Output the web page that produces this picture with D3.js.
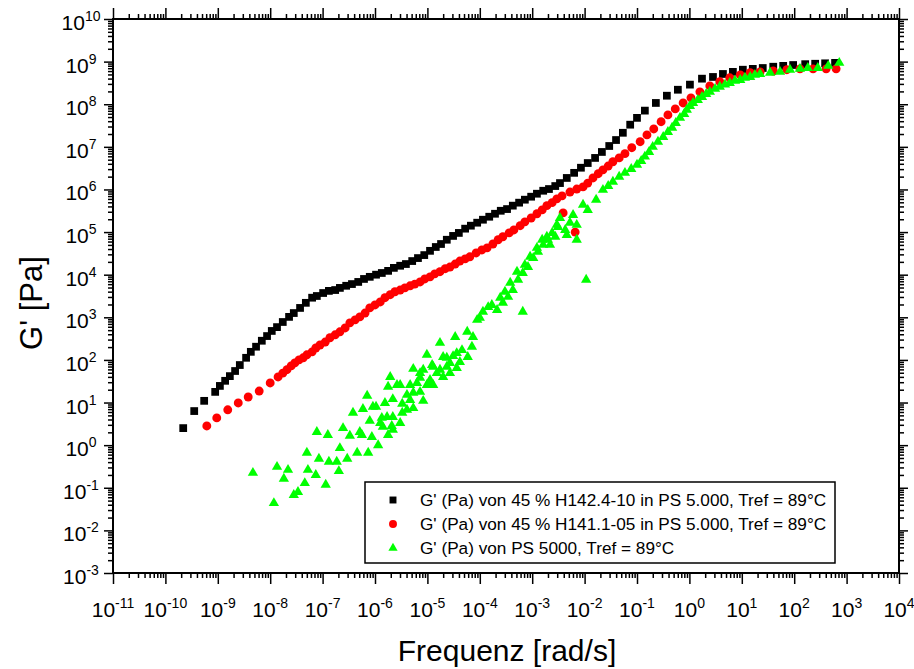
<!DOCTYPE html>
<html>
<head>
<meta charset="utf-8">
<script src="https://cdn.jsdelivr.net/npm/d3@7"></script>
<style>
  body { margin: 0; background: #fff; }
  svg { display: block; }
  text { font-family: Arial, "Liberation Sans", sans-serif; fill: #000; }
</style>
</head>
<body>
<svg id="chart" width="914" height="669"></svg>
<script>
// Storage modulus master curves at Tref = 89 °C.
// Each point is [log10 ω (rad/s), log10 G' (Pa)].
const seriesH1424 = [
  [-9.66,0.40],[-9.45,0.80],[-9.26,1.04],[-9.05,1.25],[-8.96,1.39],[-8.86,1.51],[-8.77,1.62],[-8.67,1.74],
  [-8.58,1.88],[-8.46,2.05],[-8.37,2.19],[-8.27,2.31],[-8.16,2.45],[-8.06,2.56],[-7.97,2.68],[-7.87,2.77],
  [-7.76,2.89],[-7.64,3.01],[-7.55,3.10],[-7.43,3.22],[-7.32,3.34],[-7.20,3.46],[-7.11,3.50],[-6.99,3.57],
  [-6.88,3.62],[-6.76,3.64],[-6.67,3.69],[-6.55,3.74],[-6.44,3.78],[-6.32,3.83],[-6.21,3.90],[-6.10,3.95],
  [-5.98,4.00],[-5.87,4.04],[-5.75,4.09],[-5.64,4.16],[-5.52,4.21],[-5.41,4.25],[-5.29,4.32],[-5.18,4.39],
  [-5.06,4.46],[-4.95,4.56],[-4.84,4.65],[-4.74,4.72],[-4.63,4.82],[-4.51,4.91],[-4.40,4.98],[-4.28,5.08],
  [-4.17,5.15],[-4.05,5.22],[-3.94,5.29],[-3.82,5.36],[-3.71,5.43],[-3.60,5.50],[-3.48,5.54],[-3.37,5.62],
  [-3.25,5.69],[-3.14,5.76],[-3.02,5.83],[-2.91,5.90],[-2.79,5.97],[-2.68,6.01],[-2.56,6.08],[-2.47,6.15],
  [-2.34,6.27],[-2.20,6.39],[-2.07,6.51],[-1.94,6.62],[-1.80,6.74],[-1.67,6.88],[-1.53,7.02],[-1.40,7.16],
  [-1.27,7.33],[-1.13,7.52],[-1.00,7.68],[-0.85,7.85],[-0.64,8.03],[-0.43,8.20],[-0.22,8.34],[0.01,8.46],
  [0.24,8.60],[0.45,8.64],[0.64,8.71],[0.83,8.76],[1.02,8.81],[1.21,8.83],[1.40,8.85],[1.60,8.88],
  [1.79,8.90],[1.98,8.92],[2.21,8.94],[2.40,8.95],[2.59,8.96],[2.78,8.97]
];

const seriesH1411 = [
  [-9.21,0.45],[-9.02,0.64],[-8.81,0.83],[-8.61,0.99],[-8.42,1.13],[-8.21,1.27],[-8.00,1.46],[-7.85,1.60],
  [-7.76,1.69],[-7.68,1.77],[-7.60,1.86],[-7.53,1.93],[-7.45,2.00],[-7.37,2.05],[-7.30,2.12],[-7.20,2.19],
  [-7.13,2.28],[-7.05,2.35],[-6.95,2.42],[-6.86,2.52],[-6.76,2.59],[-6.67,2.66],[-6.57,2.75],[-6.48,2.87],
  [-6.38,2.94],[-6.29,3.01],[-6.19,3.10],[-6.10,3.22],[-6.00,3.29],[-5.90,3.36],[-5.81,3.46],[-5.71,3.53],
  [-5.62,3.60],[-5.52,3.64],[-5.43,3.69],[-5.33,3.74],[-5.24,3.78],[-5.14,3.83],[-5.05,3.90],[-4.95,3.95],
  [-4.86,4.02],[-4.76,4.07],[-4.66,4.14],[-4.57,4.18],[-4.47,4.25],[-4.38,4.32],[-4.28,4.37],[-4.19,4.42],
  [-4.07,4.51],[-3.96,4.58],[-3.86,4.63],[-3.75,4.72],[-3.65,4.82],[-3.56,4.89],[-3.44,4.98],[-3.35,5.05],
  [-3.23,5.15],[-3.14,5.24],[-3.02,5.33],[-2.91,5.43],[-2.81,5.52],[-2.72,5.62],[-2.62,5.69],[-2.53,5.78],
  [-2.43,5.85],[-2.41,5.45],[-2.18,5.00],[-2.28,5.94],[-2.15,6.01],[-2.03,6.06],[-1.94,6.15],[-1.84,6.27],
  [-1.74,6.37],[-1.65,6.46],[-1.55,6.55],[-1.46,6.65],[-1.34,6.74],[-1.23,6.84],[-1.10,6.98],[-0.94,7.12],
  [-0.81,7.28],[-0.68,7.42],[-0.54,7.59],[-0.41,7.75],[-0.27,7.89],[-0.12,8.03],[0.03,8.15],[0.20,8.29],
  [0.39,8.43],[0.58,8.53],[0.77,8.62],[0.97,8.69],[1.16,8.74],[1.35,8.76],[1.60,8.78],[1.86,8.81],
  [2.11,8.83],[2.36,8.83],[2.61,8.83],[2.80,8.83]
];

const seriesPS5000 = [
  [-8.33,-0.65],[-7.87,-0.51],[-7.66,-0.58],[-7.74,-0.79],[-7.93,-1.36],[-7.30,-0.18],[-7.28,-0.58],[-7.13,-0.70],
  [-7.34,-0.89],[-7.47,-1.10],[-7.55,-1.17],[-6.94,-0.93],[-7.11,0.31],[-6.90,0.24],[-7.07,-0.32],[-6.88,-0.39],
  [-6.73,-0.39],[-6.69,-0.61],[-6.67,-0.07],[-6.53,-0.32],[-6.34,-0.18],[-6.13,-0.18],[-6.61,0.40],[-6.48,0.22],
  [-6.29,0.31],[-6.25,0.24],[-6.06,0.19],[-5.94,0.00],[-6.42,0.76],[-6.23,0.85],[-6.15,1.16],[-6.04,0.90],
  [-5.81,0.99],[-6.10,0.57],[-5.87,0.64],[-5.85,0.43],[-5.68,0.45],[-5.52,0.52],[-5.75,0.24],[-5.77,0.66],
  [-5.66,1.08],[-5.48,0.76],[-5.48,0.97],[-5.39,1.18],[-5.33,1.06],[-5.27,0.87],[-5.52,1.41],[-5.75,1.37],
  [-5.33,1.41],[-5.14,1.25],[-5.08,1.04],[-4.95,1.46],[-4.89,1.41],[-5.20,1.46],[-5.98,0.90],[-5.71,1.60],
  [-5.58,1.41],[-5.27,1.79],[-5.08,1.77],[-5.01,2.12],[-5.14,1.58],[-4.76,2.40],[-4.63,2.05],[-4.57,1.93],
  [-4.47,2.54],[-4.44,2.16],[-4.89,1.84],[-4.82,1.69],[-4.70,1.60],[-5.27,1.23],[-5.39,0.83],[-5.66,0.36],
  [-5.90,0.52],[-5.66,0.66],[-4.95,1.53],[-4.91,1.88],[-4.70,2.07],[-4.63,1.84],[-4.51,2.09],[-4.34,2.23],
  [-4.24,2.66],[-4.44,1.81],[-4.38,1.95],[-4.23,2.07],[-4.15,2.31],[-4.05,2.94],[-4.13,2.54],[-4.76,1.77],
  [-4.57,1.69],[-5.14,1.69],[-5.01,1.41],
  [-4.00,2.99],[-3.94,3.13],[-3.84,3.24],[-3.77,3.29],[-3.67,3.17],[-3.61,3.46],[-3.56,3.34],[-3.52,3.60],
  [-3.46,3.48],[-3.37,3.64],[-3.42,3.81],[-3.27,3.88],[-3.29,4.07],[-3.18,4.04],[-3.14,4.23],[-3.08,4.18],
  [-3.04,4.42],[-2.98,4.39],[-2.91,4.63],[-2.89,4.54],[-2.81,4.82],[-2.79,4.70],[-2.72,4.89],[-2.70,4.82],
  [-2.66,4.70],[-2.62,4.98],[-2.56,4.89],[-2.53,5.17],[-2.51,5.12],[-2.47,5.33],[-2.37,5.05],[-2.34,4.93],
  [-2.28,5.22],[-2.22,5.40],[-2.15,5.17],[-2.15,4.82],[-2.03,5.64],[-1.94,5.52],[-1.78,5.76],[-1.97,3.88],
  [-3.18,3.13],
  [-1.65,5.99],[-1.55,6.08],[-1.46,6.18],[-1.34,6.30],[-1.23,6.39],[-1.11,6.48],[-1.00,6.58],[-0.92,6.67],
  [-0.85,6.77],[-0.77,6.88],[-0.70,7.00],[-0.60,7.12],[-0.50,7.23],[-0.41,7.35],[-0.33,7.45],[-0.26,7.56],
  [-0.18,7.68],[-0.10,7.77],[-0.05,7.87],[0.01,7.96],[0.07,8.03],[0.16,8.10],[0.24,8.17],[0.32,8.24],
  [0.39,8.29],[0.49,8.36],[0.58,8.41],[0.68,8.46],[0.77,8.50],[0.87,8.55],[0.97,8.57],[1.06,8.62],
  [1.16,8.64],[1.25,8.69],[1.35,8.71],[1.54,8.74],[1.73,8.76],[1.92,8.81],[2.11,8.83],[2.26,8.85],
  [2.45,8.85],[2.65,8.90],[2.86,8.97]
];

const seriesLabels = [
  "G' (Pa) von 45 % H142.4-10 in PS 5.000, Tref = 89°C",
  "G' (Pa) von 45 % H141.1-05 in PS 5.000, Tref = 89°C",
  "G' (Pa) von PS 5000, Tref = 89°C"
];
const xTickExponents = [-11,-10,-9,-8,-7,-6,-5,-4,-3,-2,-1,0,1,2,3,4];
const yTickExponents = [-3,-2,-1,0,1,2,3,4,5,6,7,8,9,10];
const xTitle = "Frequenz [rad/s]";
const yTitle = "G' [Pa]";

const svg = d3.select("#chart");
svg.append("rect").attr("width", 914).attr("height", 669).attr("fill", "#fff");

const plotLeft = 113, plotRight = 899, plotTop = 19, plotBottom = 573;
const x = d3.scaleLog().domain([1e-11, 1e4]).range([plotLeft, plotRight]);
const y = d3.scaleLog().domain([1e-3, 1e10]).range([plotBottom, plotTop]);

const xMajor = xTickExponents.map(e => Math.pow(10, e));
const yMajor = yTickExponents.map(e => Math.pow(10, e));
const minorOf = (exps) => exps.slice(0, -1).flatMap(e => d3.range(2, 10).map(m => m * Math.pow(10, e)));
const xMinor = minorOf(xTickExponents);
const yMinor = minorOf(yTickExponents);

function tickLayer(axisFn, scale, values, size, transform) {
  const g = svg.append("g").attr("transform", transform)
    .call(axisFn(scale).tickValues(values).tickSize(size).tickSizeOuter(0).tickFormat(""));
  g.select(".domain").remove();
  g.selectAll(".tick line").attr("stroke", "#000").attr("stroke-width", 1.5);
  return g;
}
tickLayer(d3.axisBottom, x, xMajor, 11, `translate(0,${plotBottom})`);
tickLayer(d3.axisBottom, x, xMinor, 5, `translate(0,${plotBottom})`);
tickLayer(d3.axisTop, x, xMajor, 11, `translate(0,${plotTop})`);
tickLayer(d3.axisTop, x, xMinor, 5, `translate(0,${plotTop})`);
tickLayer(d3.axisLeft, y, yMajor, 9, `translate(${plotLeft},0)`);
tickLayer(d3.axisLeft, y, yMinor, 5, `translate(${plotLeft},0)`);
tickLayer(d3.axisRight, y, yMajor, 9, `translate(${plotRight},0)`);
tickLayer(d3.axisRight, y, yMinor, 5, `translate(${plotRight},0)`);

// plot frame
svg.append("rect")
  .attr("x", plotLeft).attr("y", plotTop)
  .attr("width", plotRight - plotLeft).attr("height", plotBottom - plotTop)
  .attr("fill", "none").attr("stroke", "#000").attr("stroke-width", 2);

// power-of-ten tick labels
function powerLabel(sel, exp) {
  sel.append("tspan").text("10").attr("font-size", 21);
  sel.append("tspan").text(String(exp)).attr("font-size", 14).attr("dy", -9);
}
svg.append("g").selectAll("text").data(xTickExponents).join("text")
  .attr("x", e => x(Math.pow(10, e)))
  .attr("y", 617)
  .attr("text-anchor", "middle")
  .each(function (e) { powerLabel(d3.select(this), e); });
svg.append("g").selectAll("text").data(yTickExponents).join("text")
  .attr("x", 81)
  .attr("y", e => y(Math.pow(10, e)) + 11)
  .attr("text-anchor", "middle")
  .each(function (e) { powerLabel(d3.select(this), e); });

// axis titles
svg.append("text").attr("x", (plotLeft + plotRight) / 2 + 1).attr("y", 661)
  .attr("text-anchor", "middle").attr("font-size", 30).text(xTitle);
svg.append("text")
  .attr("transform", `translate(42,303) rotate(-90)`)
  .attr("text-anchor", "middle").attr("font-size", 31).text(yTitle);

// data markers
const styles = [
  { data: seriesH1424, color: "#000000", symbol: d3.symbolSquare, size: 60 },
  { data: seriesH1411, color: "#ff0000", symbol: d3.symbolCircle, size: 62 },
  { data: seriesPS5000, color: "#00ff00", symbol: d3.symbolTriangle, size: 46 }
];
const plot = svg.append("g");
styles.forEach(s => {
  const path = d3.symbol().type(s.symbol).size(s.size)();
  plot.append("g").selectAll("path").data(s.data).join("path")
    .attr("d", path)
    .attr("fill", s.color)
    .attr("transform", d => `translate(${x(Math.pow(10, d[0]))},${y(Math.pow(10, d[1]))})`);
});

// legend
const legend = svg.append("g");
legend.append("rect").attr("x", 365).attr("y", 482).attr("width", 470).attr("height", 81)
  .attr("fill", "#fff").attr("stroke", "#000").attr("stroke-width", 1.5);
styles.forEach((s, i) => {
  const cy = 500 + i * 24;
  legend.append("path").attr("d", d3.symbol().type(s.symbol).size(s.size * 0.8)())
    .attr("fill", s.color).attr("transform", `translate(393,${cy})`);
  legend.append("text").attr("x", 420).attr("y", cy + 6).attr("font-size", 17.2).text(seriesLabels[i]);
});
</script>
</body>
</html>
